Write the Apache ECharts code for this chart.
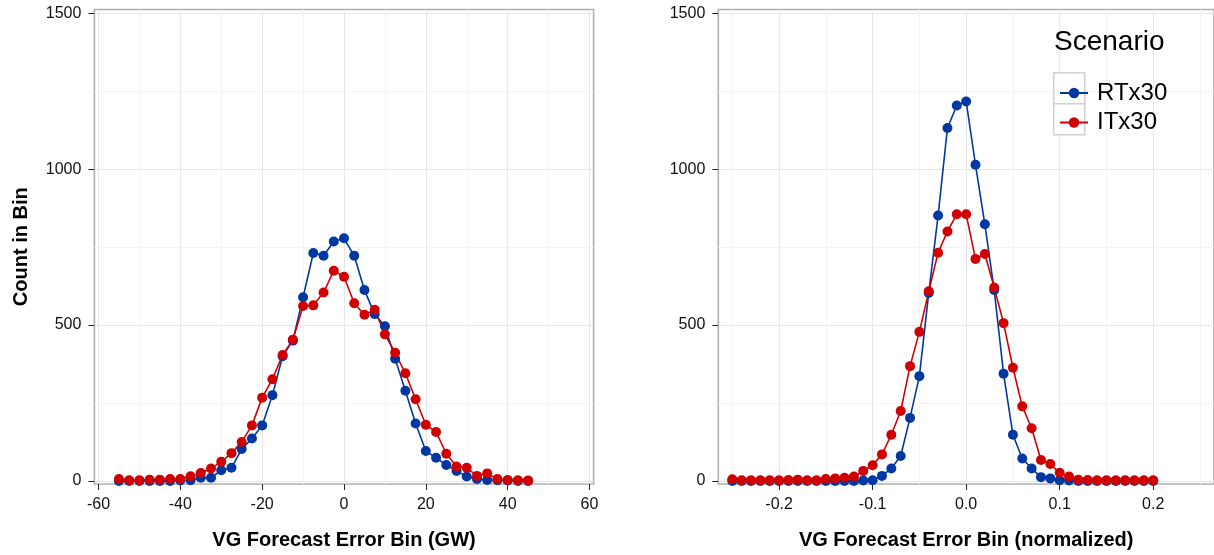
<!DOCTYPE html>
<html><head><meta charset="utf-8">
<script src="https://cdn.jsdelivr.net/npm/echarts@6/dist/echarts.min.js"></script>
<style>html,body{margin:0;padding:0;background:#fff}#c{width:1214px;height:555px}</style>
</head><body><div id="c"></div>
<script>
const binsGW = [-55,-52.5,-50,-47.5,-45,-42.5,-40,-37.5,-35,-32.5,-30,-27.5,-25,-22.5,-20,-17.5,-15,-12.5,-10,-7.5,-5,-2.5,0,2.5,5,7.5,10,12.5,15,17.5,20,22.5,25,27.5,30,32.5,35,37.5,40,42.5,45];
const rtx30GW = [0,0,0,0,0,0,1,2,10,10,34,42,102,136,178,275,400,450,589,731,722,768,778,722,612,535,496,392,289,184,96,74,51,32,14,6,3,2,1,0,0];
const itx30GW = [6,2,2,4,4,6,6,15,25,40,61,89,125,178,267,326,404,453,561,563,604,674,655,570,533,549,470,411,345,262,180,157,87,46,42,16,24,6,3,2,1];

const binsNorm = [-0.25,-0.24,-0.23,-0.22,-0.21,-0.20,-0.19,-0.18,-0.17,-0.16,-0.15,-0.14,-0.13,-0.12,-0.11,-0.10,-0.09,-0.08,-0.07,-0.06,-0.05,-0.04,-0.03,-0.02,-0.01,0,0.01,0.02,0.03,0.04,0.05,0.06,0.07,0.08,0.09,0.10,0.11,0.12,0.13,0.14,0.15,0.16,0.17,0.18,0.19,0.20];
const rtx30Norm = [0,0,0,0,0,0,0,0,0,0,0,0,0,0,1,2,16,40,80,202,336,603,851,1132,1204,1217,1014,823,612,344,148,72,40,12,8,2,1,0,0,0,0,0,0,0,0,0];
const itx30Norm = [5,2,2,2,2,2,3,4,2,2,6,8,10,14,32,50,85,148,224,368,478,608,732,800,855,855,712,728,620,506,363,239,169,67,54,26,14,4,3,2,2,2,2,2,2,2];

const ticksGW = [-60,-40,-20,0,20,40,60];
const minorGW = [-50,-30,-10,10,30,50];
const ticksNorm = [-0.2,-0.1,0,0.1,0.2];
const minorNorm = [-0.25,-0.15,-0.05,0.05,0.15,0.25];
const ticksCount = [0,500,1000,1500];
const minorCount = [250,750,1250];
const seriesNames = ['RTx30','ITx30'];
const seriesColors = ['#0038A3','#D10000'];

const FONT = 'Liberation Sans, Arial, sans-serif';
const MAJOR = '#e6e6e6', MINOR = '#f4f4f4';

function pairs(xs, ys){ return xs.map((x,i)=>[x, ys[i]]); }

function xMajor(gi, min, max, ticks, name, fmt){
  return {type:'value', gridIndex:gi, min, max, position:'bottom',
    axisLine:{show:false, onZero:false},
    axisTick:{show:true, length:6, customValues:ticks, lineStyle:{color:'#222', width:1}},
    axisLabel:{customValues:ticks, fontSize:16, color:'#111', margin:13, fontFamily:FONT, formatter:fmt},
    splitLine:{show:true, lineStyle:{color:MAJOR, width:1}},
    name, nameLocation:'middle', nameGap:46,
    nameTextStyle:{fontSize:20, fontWeight:'bold', color:'#000', fontFamily:FONT}};
}
function xMinor(gi, min, max, vals){
  return {type:'value', gridIndex:gi, min, max, position:'top',
    axisLine:{show:false, onZero:false}, axisTick:{show:false, customValues:vals},
    axisLabel:{show:false, customValues:vals},
    splitLine:{show:true, lineStyle:{color:MINOR, width:1}}};
}
function yMajor(gi, name){
  return {type:'value', gridIndex:gi, min:-10, max:1512, position:'left',
    axisLine:{show:false, onZero:false},
    axisTick:{show:true, length:6, customValues:ticksCount, lineStyle:{color:'#222', width:1}},
    axisLabel:{customValues:ticksCount, fontSize:16, color:'#111', margin:13, fontFamily:FONT, formatter:v=>String(v)},
    splitLine:{show:true, lineStyle:{color:MAJOR, width:1}},
    name, nameLocation:'middle', nameGap:63,
    nameTextStyle:{fontSize:20, fontWeight:'bold', color:'#000', fontFamily:FONT}};
}
function yMinor(gi){
  return {type:'value', gridIndex:gi, min:-10, max:1512, position:'right',
    axisLine:{show:false, onZero:false}, axisTick:{show:false, customValues:minorCount},
    axisLabel:{show:false, customValues:minorCount},
    splitLine:{show:true, lineStyle:{color:MINOR, width:1}}};
}

function lineSeries(name, color, xi, yi, data){
  return {type:'line', name, xAxisIndex:xi, yAxisIndex:yi, data,
    symbol:'circle', symbolSize:10, showSymbol:true,
    lineStyle:{color, width:1.6}, itemStyle:{color},
    emphasis:{disabled:true}, animation:false};
}

const chart = echarts.init(document.getElementById('c'), null, {renderer:'canvas'});
chart.setOption({
  animation:false,
  backgroundColor:'#fff',
  textStyle:{fontFamily:FONT},
  grid:[
    {left:94.4, width:499.2, top:9.5, height:479.5, show:true, borderColor:'#b0b0b0', borderWidth:1.6, backgroundColor:'transparent'},
    {left:718.3, width:500.4, top:9.5, height:479.5, show:true, borderColor:'#b0b0b0', borderWidth:1.6, backgroundColor:'transparent'}
  ],
  xAxis:[
    xMajor(0, -61, 61, ticksGW, 'VG Forecast Error Bin (GW)', v=>String(v)),
    xMinor(0, -61, 61, minorGW),
    xMajor(1, -0.265, 0.265, ticksNorm, 'VG Forecast Error Bin (normalized)', v=>(Math.abs(v)<1e-9?0:v).toFixed(1)),
    xMinor(1, -0.265, 0.265, minorNorm)
  ],
  yAxis:[ yMajor(0,'Count in Bin'), yMinor(0), yMajor(1,''), yMinor(1) ],
  legend:{
    orient:'vertical', left:1054, top:76, itemWidth:28, itemHeight:13, itemGap:5.5,
    data:seriesNames,
    textStyle:{fontSize:24, color:'#000', fontFamily:FONT, padding:[0,0,0,4]}
  },
  graphic:[
    {type:'text', left:1054, top:28, z:5, style:{text:'Scenario', fontSize:28, fontFamily:FONT, fill:'#000'}},
    {type:'rect', left:1053, top:72, z:1, shape:{width:31, height:31}, style:{fill:'#fff', stroke:'#d0d0d0', lineWidth:1.5}},
    {type:'rect', left:1053, top:103, z:1, shape:{width:31, height:31}, style:{fill:'#fff', stroke:'#d0d0d0', lineWidth:1.5}}
  ],
  series:[
    lineSeries(seriesNames[0], seriesColors[0], 0, 0, pairs(binsGW, rtx30GW)),
    lineSeries(seriesNames[1], seriesColors[1], 0, 0, pairs(binsGW, itx30GW)),
    lineSeries(seriesNames[0], seriesColors[0], 2, 2, pairs(binsNorm, rtx30Norm)),
    lineSeries(seriesNames[1], seriesColors[1], 2, 2, pairs(binsNorm, itx30Norm))
  ]
});
</script></body></html>
